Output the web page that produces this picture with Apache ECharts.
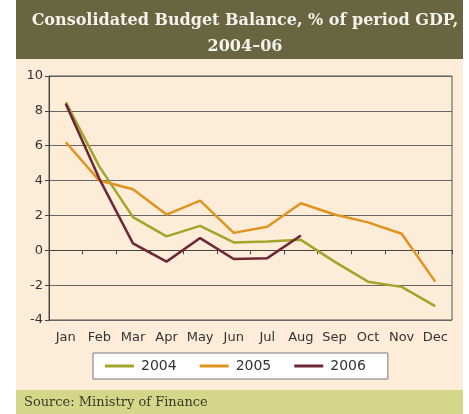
<!DOCTYPE html>
<html>
<head>
<meta charset="utf-8">
<script src="https://cdn.jsdelivr.net/npm/echarts@6/dist/echarts.min.js"></script>
<style>
html, body { margin: 0; padding: 0; background: #fff; }
#chart { width: 469px; height: 414px; }
</style>
</head>
<body>
<div id="chart"></div>
<script>
// months on the x axis
var months = ['Jan', 'Feb', 'Mar', 'Apr', 'May', 'Jun', 'Jul', 'Aug', 'Sep', 'Oct', 'Nov', 'Dec'];
// budget balance, % of period GDP
var y2004 = [8.5, 4.8, 1.9, 0.8, 1.4, 0.45, 0.5, 0.6, -0.65, -1.8, -2.1, -3.2];
var y2005 = [6.2, 4.0, 3.5, 2.05, 2.85, 1.0, 1.35, 2.7, 2.05, 1.6, 0.95, -1.8];
var y2006 = [8.4, 4.1, 0.4, -0.65, 0.7, -0.5, -0.45, 0.85];

var chart = echarts.init(document.getElementById('chart'));

var lineSeries = function (name, data, color) {
    return {
        name: name,
        type: 'line',
        data: data,
        symbol: 'none',
        lineStyle: { color: color, width: 2.5 },
        itemStyle: { color: color }
    };
};

chart.setOption({
    animation: false,
    graphic: [
        // title band
        { type: 'rect', shape: { x: 16, y: 0, width: 447, height: 59 }, style: { fill: '#686640' }, z: -10 },
        // chart background
        { type: 'rect', shape: { x: 16, y: 59, width: 447, height: 331 }, style: { fill: '#fdecd7' }, z: -10 },
        // source band
        { type: 'rect', shape: { x: 16, y: 390, width: 447, height: 24 }, style: { fill: '#d4d78a' }, z: -10 },
        {
            type: 'text', left: 24, top: 396,
            style: { text: 'Source: Ministry of Finance', fill: '#3a3a2a', font: '13px "DejaVu Serif"' }
        }
    ],
    title: {
        text: 'Consolidated Budget Balance, % of period GDP,\n2004\u201306',
        left: 240,
        textAlign: 'center',
        top: 3,
        textStyle: {
            color: '#f4f2ea',
            fontFamily: 'DejaVu Serif',
            fontWeight: 'bold',
            fontSize: 16,
            lineHeight: 26
        }
    },
    legend: {
        top: 353,
        left: 93,
        itemWidth: 29,
        itemHeight: 3,
        itemGap: 23,
        padding: [6, 22, 6, 12],
        borderColor: '#777',
        borderWidth: 1,
        backgroundColor: '#ffffff',
        borderRadius: 0,
        icon: 'rect',
        textStyle: { color: '#333', fontSize: 14, fontFamily: 'DejaVu Sans', padding: [0, 0, 0, 2] },
        data: ['2004', '2005', '2006']
    },
    grid: { left: 49, top: 76, width: 403, height: 244, show: true, borderColor: '#555', borderWidth: 1 },
    xAxis: {
        type: 'category',
        data: months,
        boundaryGap: true,
        axisLine: { onZero: true, lineStyle: { color: '#444' } },
        axisTick: { show: true, length: 4, inside: false, lineStyle: { color: '#444' } },
        axisLabel: {
            color: '#333', fontSize: 13, fontFamily: 'DejaVu Sans', interval: 0,
            margin: 11
        },
        position: 'bottom'
    },
    yAxis: {
        type: 'value',
        min: -4,
        max: 10,
        interval: 2,
        axisLine: { show: true, lineStyle: { color: '#444' } },
        axisTick: { show: true, length: 4, lineStyle: { color: '#444' } },
        axisLabel: { color: '#333', fontSize: 13, fontFamily: 'DejaVu Sans', margin: 6 },
        splitLine: { lineStyle: { color: '#666', width: 1 } }
    },
    series: [
        lineSeries('2004', y2004, '#a3a52a'),
        lineSeries('2005', y2005, '#e0931f'),
        lineSeries('2006', y2006, '#6e2637')
    ]
});
</script>
</body>
</html>
